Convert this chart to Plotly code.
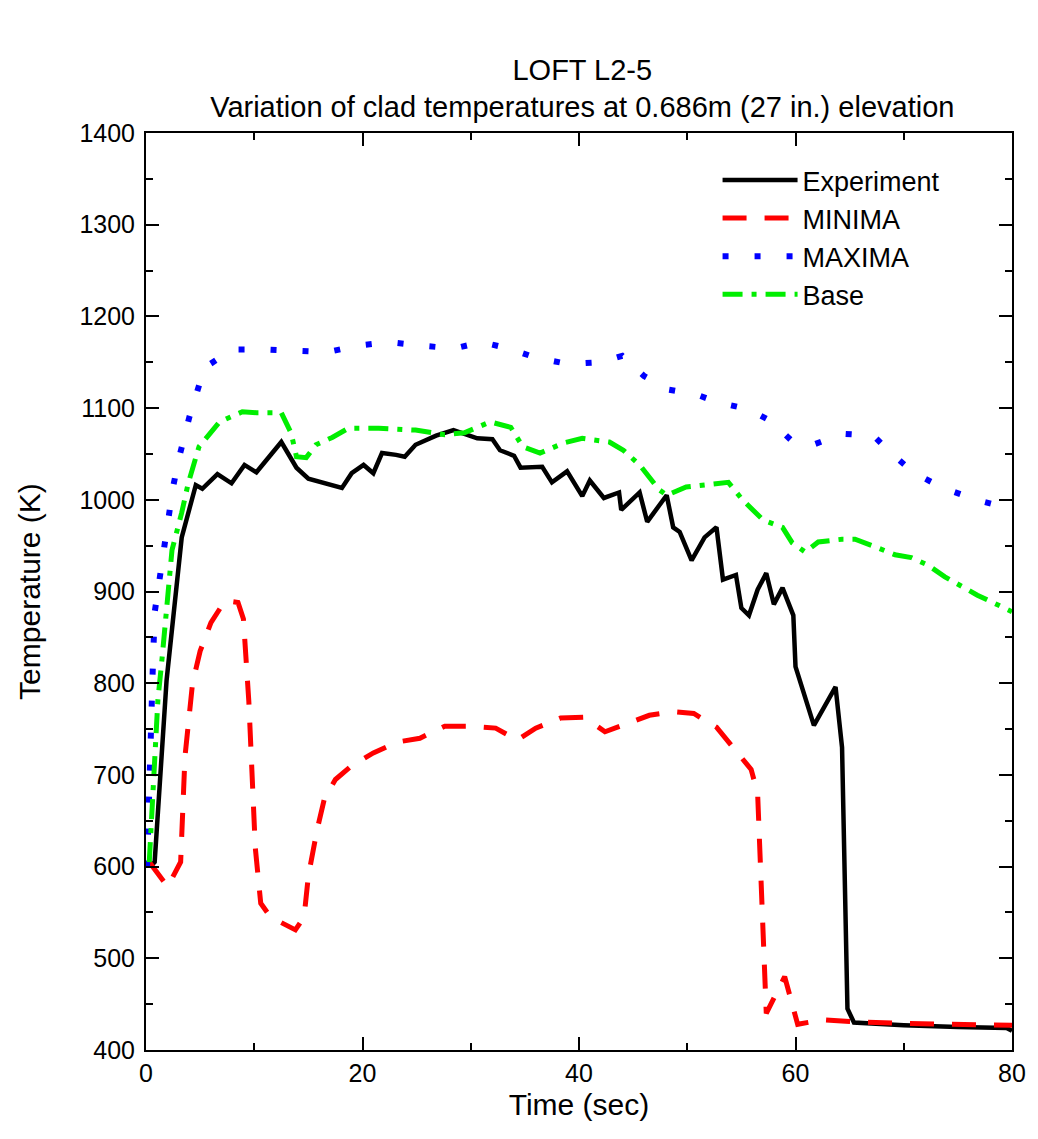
import plotly.graph_objects as go

# Experiment (black solid)
exp_t = [0.4, 0.8, 1.9, 3.3, 4.6, 5.2, 6.6, 7.9, 9.1, 10.2, 12.5, 13.9, 15.0, 18.1, 19.0, 20.1,
         21.0, 21.8, 23.1, 23.9, 24.9, 26.8, 28.4, 30.6, 32.0, 32.7, 34.0, 34.6, 36.6, 37.5,
         38.9, 40.3, 41.0, 42.3, 43.7, 43.9, 45.6, 46.3, 48.1, 48.7, 49.3, 50.4, 51.6, 52.7,
         53.3, 54.5, 55.0, 55.7, 56.5, 57.3, 58.0, 58.8, 59.8, 60.0, 61.7, 63.7, 64.3, 64.8,
         65.4, 70.0, 75.0, 79.5, 80.0]
exp_T = [600, 605, 803, 959, 1016, 1012, 1028, 1018, 1038, 1030, 1063, 1035, 1023, 1013, 1029, 1038,
         1029, 1051, 1049, 1047, 1060, 1070, 1076, 1067, 1066, 1054, 1048, 1035, 1036, 1019,
         1031, 1004, 1021, 1002, 1008, 989, 1008, 976, 1005, 970, 965, 934, 959, 970,
         913, 918, 882, 874, 902, 920, 886, 904, 874, 818, 754, 796, 730, 445,
         430, 427, 425, 424, 421]

# MINIMA (red dashed)
min_t = [0.3, 2.0, 3.2, 3.6, 4.3, 5.0, 6.0, 7.3, 8.5, 9.0, 9.5, 10.1, 10.6, 11.5, 13.8, 14.6,
         15.0, 15.8, 16.5, 17.5, 19.0, 21.0, 23.3, 25.3, 27.6, 30.0, 32.3, 34.3, 36.0, 38.3,
         40.5, 42.4, 44.7, 46.5, 48.7, 50.6, 52.7, 54.2, 55.9, 56.5, 57.3, 59.0, 59.4, 60.2,
         62.5, 65.0, 70.0, 75.0, 80.0]
min_T = [605, 578, 605, 720, 800, 835, 866, 890, 888, 870, 780, 620, 560, 545, 531, 545,
         590, 640, 675, 695, 710, 724, 736, 740, 753, 753, 751, 738, 751, 762,
         763, 747, 757, 765, 769, 767, 752, 730, 706, 680, 440, 480, 462, 428,
         433, 431, 429, 428, 427]

# MAXIMA (blue dotted)
max_t = [0.1, 0.3, 0.5, 0.6, 0.8, 1.2, 1.6, 2.0, 2.5, 3.1, 4.0, 5.4, 8.0, 10.9, 13.8, 16.7,
         19.5, 22.5, 25.5, 28.5, 31.0, 33.5, 36.0, 39.0, 42.0, 44.0, 46.0, 48.3, 50.8, 52.9,
         55.6, 57.7, 59.6, 61.6, 64.4, 67.2, 69.0, 71.0, 73.6, 76.7, 80.0]
max_T = [600, 665, 736, 806, 877, 910, 945, 980, 1014, 1048, 1090, 1144, 1164, 1164, 1162, 1161,
         1168, 1172, 1168, 1165, 1172, 1165, 1155, 1148, 1150, 1157, 1135, 1120, 1115, 1106,
         1099, 1086, 1065, 1060, 1072, 1070, 1049, 1029, 1013, 1000, 990]

# Base (green dash-dot)
base_t = [0.3, 0.6, 0.8, 1.1, 1.5, 1.9, 2.4, 3.3, 3.9, 4.9, 5.9, 6.8, 8.9, 10.2, 12.5, 13.4,
          13.9, 14.8, 15.7, 17.2, 18.7, 21.5, 24.9, 27.6, 29.4, 31.8, 33.7, 34.8, 36.4, 38.6,
          40.3, 42.8, 44.1, 45.6, 47.4, 48.1, 49.9, 52.4, 53.8, 55.1, 57.0, 58.8, 59.7, 60.9,
          62.1, 64.3, 65.5, 67.3, 69.2, 70.7, 72.2, 73.8, 76.8, 80.0]
base_T = [605, 680, 716, 782, 829, 880, 945, 986, 1018, 1058, 1073, 1085, 1096, 1095, 1095, 1073,
          1047, 1046, 1060, 1068, 1078, 1078, 1076, 1071, 1073, 1085, 1079, 1058, 1051, 1062,
          1067, 1063, 1054, 1038, 1011, 1005, 1014, 1018, 1019, 1000, 978, 970, 953, 943,
          954, 957, 957, 949, 940, 937, 929, 916, 896, 878]

x_ticks = [0, 20, 40, 60, 80]
y_ticks = [400, 500, 600, 700, 800, 900, 1000, 1100, 1200, 1300, 1400]

FONT = "Arial, Liberation Sans, sans-serif"

fig = go.Figure()
fig.add_trace(go.Scatter(x=exp_t, y=exp_T, mode="lines", name="Experiment",
                         line=dict(color="black", width=4.5)))
fig.add_trace(go.Scatter(x=min_t, y=min_T, mode="lines", name="MINIMA",
                         line=dict(color="#ff0000", width=5, dash="24px,18px")))
fig.add_trace(go.Scatter(x=max_t, y=max_T, mode="lines", name="MAXIMA",
                         line=dict(color="#0000ff", width=6, dash="6px,26px")))
fig.add_trace(go.Scatter(x=base_t, y=base_T, mode="lines", name="Base",
                         line=dict(color="#00ee00", width=5, dash="20px,9px,5px,9px")))

axis_common = dict(showline=True, linecolor="black", linewidth=2, mirror="ticks",
                   ticks="inside", ticklen=13, tickwidth=2, tickcolor="black",
                   showgrid=False, zeroline=False,
                   tickfont=dict(family=FONT, size=25, color="black"))

fig.update_layout(
    width=1038, height=1139,
    margin=dict(l=146, r=20, t=133, b=89),
    paper_bgcolor="white", plot_bgcolor="white",
    title=dict(text="LOFT L2-5<br>Variation of clad temperatures at 0.686m (27 in.) elevation",
               x=0.561, xanchor="center", y=0.93, yanchor="top",
               font=dict(family=FONT, size=29, color="black")),
    xaxis=dict(range=[0, 80], tickvals=x_ticks, ticklabelstandoff=0,
               minor=dict(dtick=10, ticks="inside", ticklen=7, tickwidth=2, tickcolor="black"),
               title=dict(text="Time (sec)", font=dict(family=FONT, size=30, color="black"),
                          standoff=8),
               **axis_common),
    yaxis=dict(range=[400, 1400], tickvals=y_ticks, ticklabelstandoff=4,
               minor=dict(dtick=50, ticks="inside", ticklen=7, tickwidth=2, tickcolor="black"),
               title=dict(text="Temperature (K)", font=dict(family=FONT, size=30, color="black"),
                          standoff=30),
               **axis_common),
    legend=dict(x=0.66, y=0.975, xanchor="left", yanchor="top",
                bgcolor="rgba(0,0,0,0)", borderwidth=0,
                font=dict(family=FONT, size=27, color="black"),
                itemwidth=75, tracegroupgap=0),
    showlegend=True,
)

fig.write_html("out.html")
